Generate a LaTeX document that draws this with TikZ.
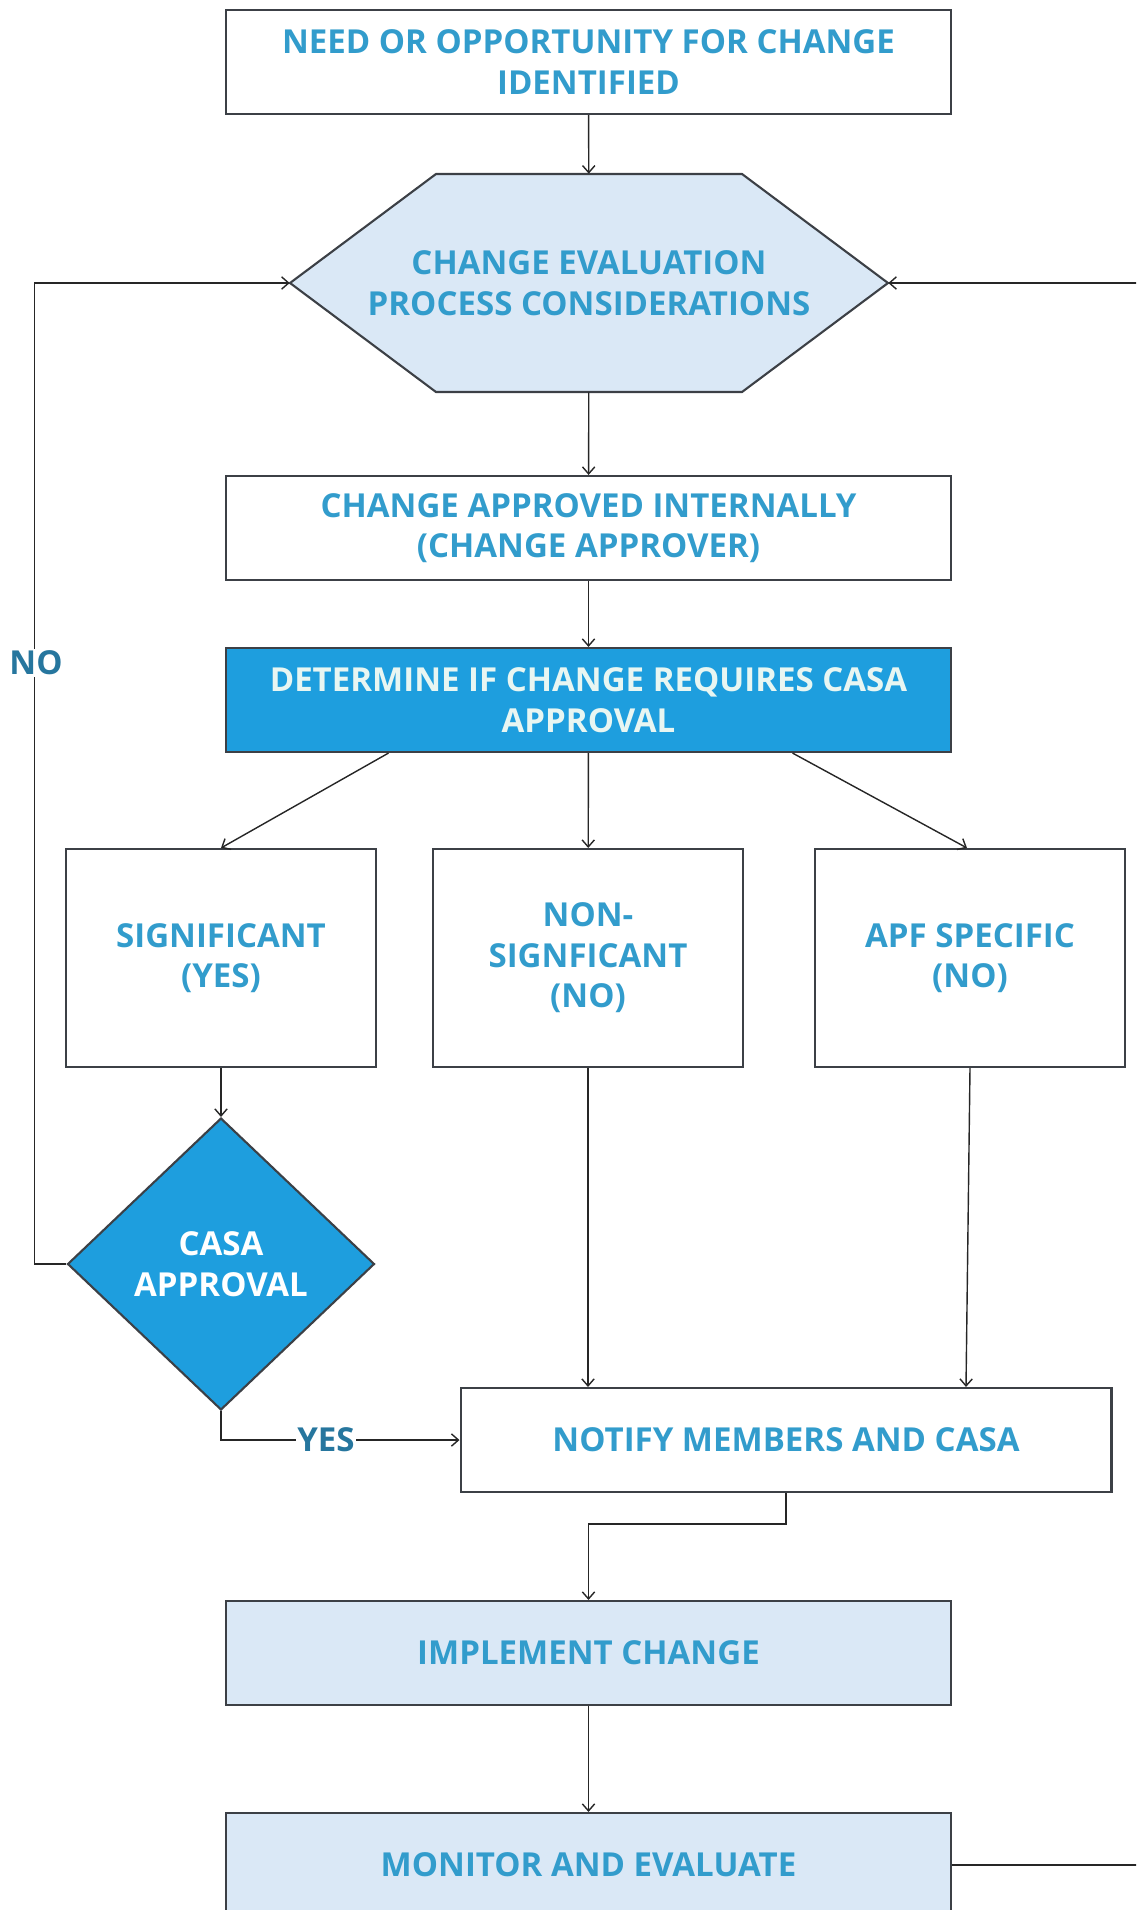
\documentclass[tikz,border=0pt]{standalone}
\usepackage{fontspec}
\setmainfont{Open Sans}
\usetikzlibrary{arrows.meta,shapes.geometric,calc}
\definecolor{flowtext}{RGB}{50,156,204}
\definecolor{labeltext}{RGB}{38,118,158}
\definecolor{boxline}{RGB}{60,64,70}
\definecolor{palefill}{RGB}{218,232,246}
\definecolor{strongfill}{RGB}{30,158,222}
\definecolor{lighttext}{RGB}{232,246,242}

\begin{document}
\begin{tikzpicture}[x=0.02cm, y=-0.02cm,
  >={Straight Barb[length=4pt,width=7pt]},
  every node/.style = { align=center, text=flowtext,
	font=\fontsize{18.8}{23}\selectfont\bfseries},
  stepbox/.style = { shape=rectangle, draw=boxline, line width=1.2pt,
	minimum width=14.5cm, minimum height=2.08cm, inner sep=0pt},
  branchbox/.style = { stepbox, minimum width=6.2cm, minimum height=4.36cm},
  notelabel/.style = { fill=white, inner sep=1pt, text=labeltext},
  link/.style = { ->, draw=black!85, line width=0.8pt}]

\useasboundingbox (0,0) rectangle (1136,1910);
\clip (0,0) rectangle (1136,1910);

% hexagon behind the evaluation text
\draw[draw=boxline, line width=1.2pt, fill=palefill]
	(290,283) -- (436,174) -- (742,174) -- (888,283) -- (742,392) -- (436,392) -- cycle;

\node[stepbox] (need) at (588.5,62) {NEED OR OPPORTUNITY FOR CHANGE\\IDENTIFIED};
\node[minimum width=11.96cm, minimum height=4.36cm, inner sep=0pt]
	(evaluate) at (589,283) {CHANGE EVALUATION\\PROCESS CONSIDERATIONS};
\node[stepbox] (approved) at (588.5,528) {CHANGE APPROVED INTERNALLY\\(CHANGE APPROVER)};
\node[stepbox, fill=strongfill, text=lighttext]
	(determine) at (588.5,700) {DETERMINE IF CHANGE REQUIRES CASA\\APPROVAL};

\node[branchbox] (significant) at (221,958) {SIGNIFICANT\\(YES)};
\node[branchbox] (nonsignificant) at (588,958) {NON-\\SIGNFICANT\\(NO)};
\node[branchbox] (apf) at (970,958) {APF SPECIFIC\\(NO)};

\node[shape=diamond, draw=boxline, line width=1.2pt, fill=strongfill, text=white,
	minimum width=6.14cm, minimum height=5.84cm, inner sep=0pt]
	(casa) at (221,1264) {CASA\\APPROVAL};

\node[stepbox, minimum width=13.02cm] (notify) at (786,1440) {NOTIFY MEMBERS AND CASA};
\node[stepbox, fill=palefill] (implement) at (588.5,1653) {IMPLEMENT CHANGE};
\node[stepbox, fill=palefill] (monitor) at (588.5,1865) {MONITOR AND EVALUATE};

% connectors
\draw[link] (need) -- (evaluate);
\draw[link] (evaluate) -- (approved);
\draw[link] (approved) -- (determine);
\draw[link] ($(determine.south)+(-200,0)$) -- (significant.north);
\draw[link] (determine) -- (nonsignificant);
\draw[link] ($(determine.south)+(204,0)$) -- ($(apf.north)+(-3,0)$);
\draw[link] (significant) -- (casa);
\draw[link] (casa.west) -- ++(-32,0) |- (evaluate.west);
\draw[link] (casa.south) |- (notify.west);
\draw[link] (nonsignificant) -- (nonsignificant |- notify.north);
\draw[link] (apf.south) -- ($(apf.south |- notify.north)+(-4,0)$);
\draw[link] (notify.south) -- ++(0,31) -| (implement.north);
\draw[link] (implement) -- (monitor);
\draw[link] (monitor.east) -- ++(260,0) |- (evaluate.east);

\node[notelabel] (no) at (36,663) {NO};
\node[notelabel] (yes) at (326,1440) {YES};
\end{tikzpicture}
\end{document}
